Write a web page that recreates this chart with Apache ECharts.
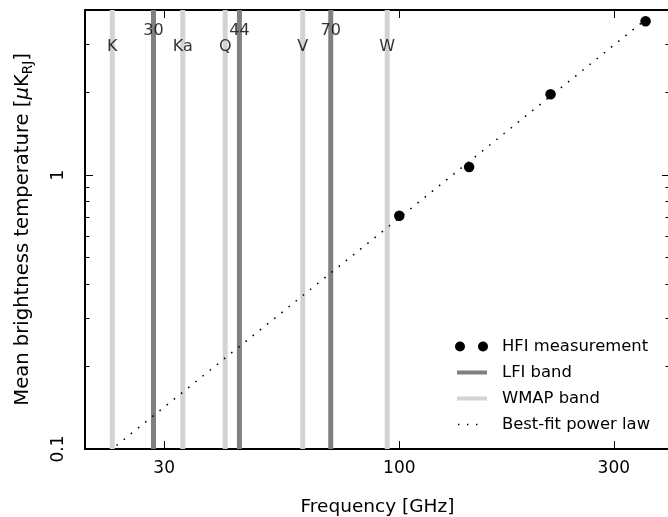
<!DOCTYPE html>
<html>
<head>
<meta charset="utf-8">
<script src="https://cdn.jsdelivr.net/npm/echarts@6/dist/echarts.min.js"></script>
<style>html,body{margin:0;padding:0;background:#fff;}#chart{width:668px;height:517px;}</style>
</head>
<body>
<div id="chart"></div>
<script>
// ---- data ----
const wmapFreq = [23, 33, 41, 61, 94];
const wmapNames = ['K', 'Ka', 'Q', 'V', 'W'];
const lfiFreq = [28.4, 44.1, 70.4];
const lfiNames = ['30', '44', '70'];
const hfiFreq = [100, 143, 217, 353];
const hfiTemp = [0.71, 1.07, 1.97, 3.64];
const fitFreq = [23.5, 361];
const fitTemp = [0.103, 3.8];
const xTickValues = [30, 100, 300];
const yMajorTicks = [0.1, 1];
const yMinorTicks = [0.2, 0.3, 0.4, 0.5, 0.6, 0.7, 0.8, 0.9, 2, 3, 4];
const xMin = 20, xMax = 400, yMin = 0.1, yMax = 4;

const FONT = 'DejaVu Sans';
const LFI_COLOR = '#808080';
const WMAP_COLOR = '#d3d3d3';

const chart = echarts.init(document.getElementById('chart'), null, {renderer: 'canvas'});

const fmt = v => String(+(+v).toPrecision(3));

function xAx(pos, labels) {
  return {
    type: 'log', logBase: 10, min: xMin, max: xMax, position: pos,
    name: labels ? 'Frequency [GHz]' : '',
    nameLocation: 'middle', nameGap: 49,
    nameTextStyle: {fontFamily: FONT, fontSize: 18.5, color: '#000'},
    axisLine: {show: true, onZero: false, lineStyle: {color: '#000', width: 2}},
    axisTick: {show: true, inside: true, length: 8, customValues: xTickValues, lineStyle: {color: '#000', width: 1}},
    axisLabel: {show: labels, customValues: xTickValues, formatter: fmt, fontFamily: FONT, fontSize: 17, color: '#000', margin: 11},
    splitLine: {show: false}, minorTick: {show: false}
  };
}
function yAx(pos, major, showLine, labels) {
  return {
    type: 'log', logBase: 10, min: yMin, max: yMax, position: pos,
    name: labels ? 'Mean brightness temperature [{it|μ}K{sub|RJ}]' : '',
    nameLocation: 'middle', nameGap: 50, nameRotate: 90,
    nameTextStyle: {fontFamily: FONT, fontSize: 19.6, color: '#000', lineHeight: 24,
      rich: {
        it: {fontFamily: FONT, fontSize: 19.6, fontStyle: 'italic', color: '#000', lineHeight: 24},
        sub: {fontFamily: FONT, fontSize: 13.5, color: '#000', lineHeight: 13, verticalAlign: 'bottom'}
      }},
    axisLine: {show: showLine, onZero: false, lineStyle: {color: '#000', width: 2}},
    axisTick: {show: true, inside: true, length: major ? 8 : 4.5, customValues: major ? yMajorTicks : yMinorTicks, lineStyle: {color: '#000', width: 1}},
    axisLabel: {show: labels, customValues: yMajorTicks, formatter: fmt, rotate: 90, fontFamily: FONT, fontSize: 17, color: '#000', margin: 18},
    splitLine: {show: false}, minorTick: {show: false}
  };
}

const series = [];
wmapFreq.forEach((f, i) => {
  series.push({
    name: 'WMAP band', type: 'line', xAxisIndex: 0, yAxisIndex: 0,
    data: [[f, yMin], [f, yMax]], symbol: 'none', silent: true, z: 1,
    color: WMAP_COLOR, lineStyle: {color: WMAP_COLOR, width: 5, opacity: 1}, animation: false
  });
});
lfiFreq.forEach((f, i) => {
  series.push({
    name: 'LFI band', type: 'line', xAxisIndex: 0, yAxisIndex: 0,
    data: [[f, yMin], [f, yMax]], symbol: 'none', silent: true, z: 1,
    color: LFI_COLOR, lineStyle: {color: LFI_COLOR, width: 5, opacity: 1}, animation: false
  });
});
// band labels
series.push({
  name: 'wmapLabels', type: 'scatter', symbolSize: 0, silent: true, clip: false, z: 5, animation: false,
  data: wmapFreq.map((f, i) => ({value: [f, yMax], label: {formatter: wmapNames[i]}})),
  label: {show: true, position: 'bottom', distance: 29, fontFamily: FONT, fontSize: 16, color: '#000'}
});
series.push({
  name: 'lfiLabels', type: 'scatter', symbolSize: 0, silent: true, clip: false, z: 5, animation: false,
  data: lfiFreq.map((f, i) => ({value: [f, yMax], label: {formatter: lfiNames[i]}})),
  label: {show: true, position: 'bottom', distance: 13, fontFamily: FONT, fontSize: 16, color: '#000'}
});
series.push({
  name: 'Best-fit power law', type: 'line', data: fitFreq.map((f, i) => [f, fitTemp[i]]),
  symbol: 'none', z: 3, color: '#000', animation: false, silent: true,
  lineStyle: {color: '#000', width: 1.5, type: [1.6, 7.6], opacity: 1}
});
series.push({
  name: 'HFI measurement', type: 'scatter', data: hfiFreq.map((f, i) => [f, hfiTemp[i]]),
  symbol: 'circle', symbolSize: 10.5, z: 4, color: '#000', itemStyle: {color: '#000', opacity: 1}, animation: false, silent: true
});

// legend icons (with zero-area corner marks so the icon box is 33 x 10)
const corners = 'M0,0h0.01v0h-0.01zM33,10h-0.01v0h0.01z';
const iconDots = 'path://' + corners + 'M5,0A5,5,0,1,1,5,10A5,5,0,1,1,5,0ZM28,0A5,5,0,1,1,28,10A5,5,0,1,1,28,0Z';
const iconBar = 'path://' + corners + 'M2,3h30v4h-30z';
const iconDotted = 'path://' + corners + 'M3,4.3h1.4v1.4h-1.4zM12,4.3h1.4v1.4h-1.4zM21,4.3h1.4v1.4h-1.4z';

chart.setOption({
  animation: false,
  backgroundColor: '#fff',
  grid: {left: 85, right: -2, top: 10, bottom: 68, containLabel: false, outerBoundsMode: 'none'},
  xAxis: [xAx('bottom', true), xAx('top', false)],
  yAxis: [yAx('left', true, true, true), yAx('left', false, false, false), yAx('right', true, true, false), yAx('right', false, false, false)],
  legend: {
    orient: 'vertical', left: 450, top: 333, itemWidth: 33, itemHeight: 10, itemGap: 9,
    selectedMode: false,
    textStyle: {fontFamily: FONT, fontSize: 16.4, color: '#000', padding: [0, 0, 0, 9], lineHeight: 17},
    itemStyle: {borderWidth: 0},
    data: [
      {name: 'HFI measurement', icon: iconDots, itemStyle: {color: '#000', borderWidth: 0}},
      {name: 'LFI band', icon: iconBar, itemStyle: {color: LFI_COLOR, borderWidth: 0}},
      {name: 'WMAP band', icon: iconBar, itemStyle: {color: WMAP_COLOR, borderWidth: 0}},
      {name: 'Best-fit power law', icon: iconDotted, itemStyle: {color: '#000', borderWidth: 0}}
    ]
  },
  series: series
});
</script>
</body>
</html>
